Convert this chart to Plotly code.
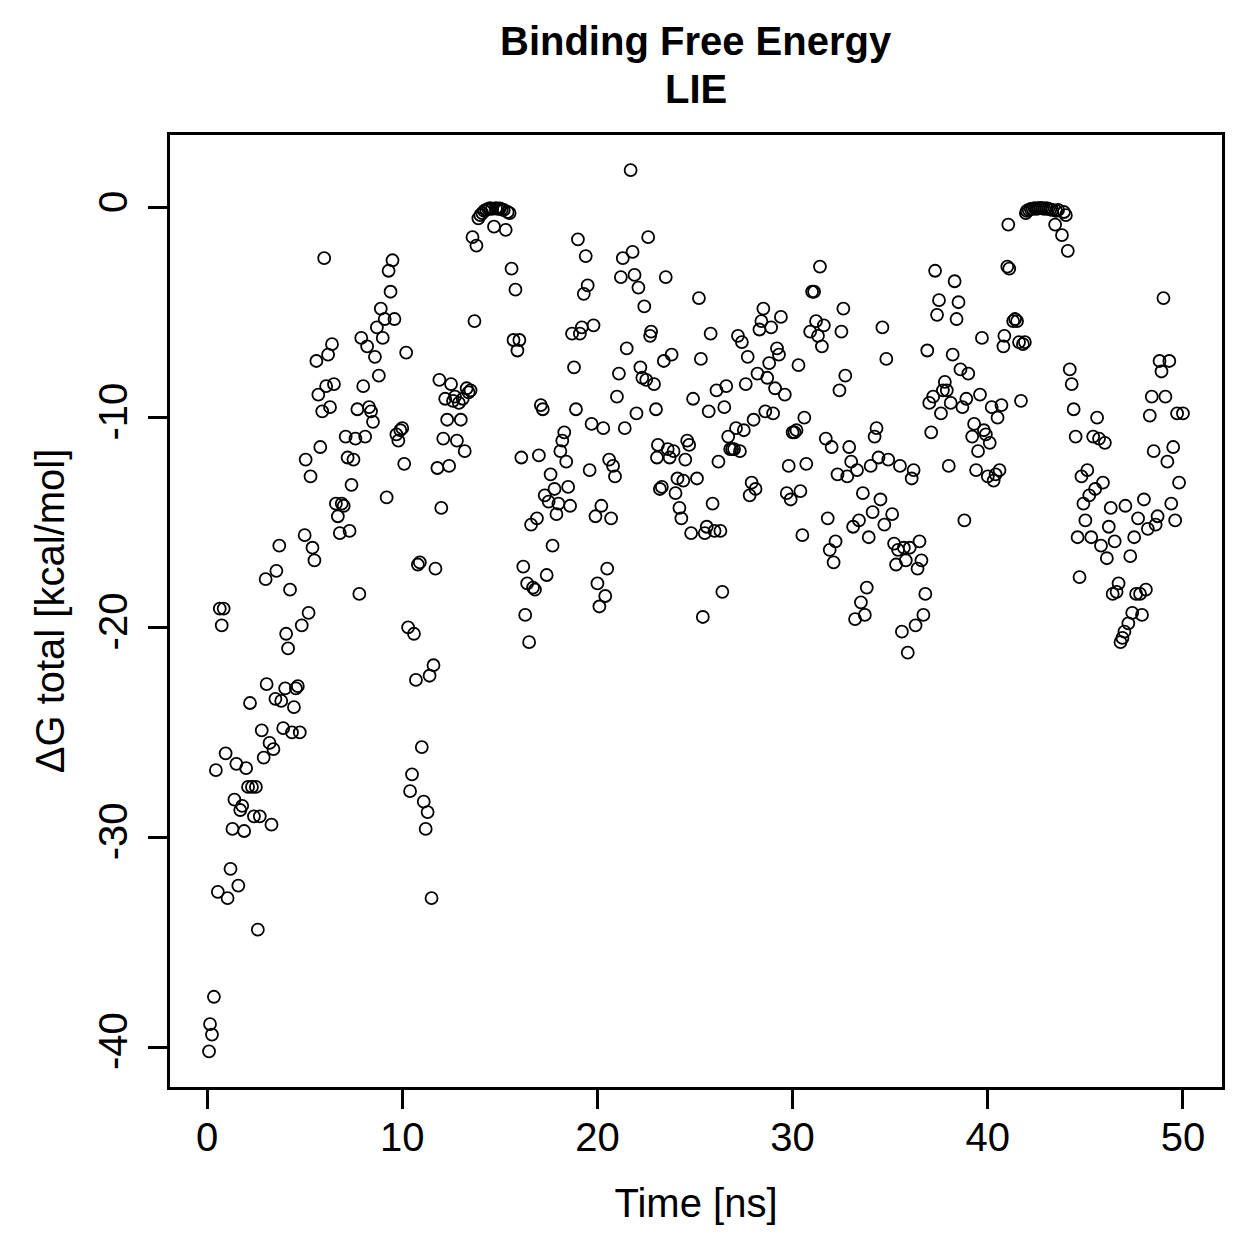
import plotly.graph_objects as go

# Time [ns]
time_ns = [
    0.10, 0.15, 0.25, 0.35, 0.45, 0.55, 0.65, 0.75, 0.85, 0.95,
    1.05, 1.2, 1.3, 1.4, 1.5, 1.6, 1.7, 1.8, 1.9, 2.0,
    2.1, 2.2, 2.3, 2.4, 2.5, 2.6, 2.7, 2.8, 2.9, 3.0,
    3.05, 3.2, 3.3, 3.4, 3.5, 3.55, 3.7, 3.8, 3.9, 4.0,
    4.05, 4.15, 4.25, 4.35, 4.45, 4.55, 4.65, 4.75, 4.85, 5.0,
    5.05, 5.2, 5.3, 5.4, 5.5, 5.6, 5.7, 5.8, 5.9, 6.0,
    6.1, 6.2, 6.3, 6.4, 6.5, 6.6, 6.7, 6.8, 6.9, 7.0,
    7.1, 7.2, 7.3, 7.4, 7.5, 7.6, 7.7, 7.8, 7.9, 8.0,
    8.1, 8.2, 8.3, 8.4, 8.5, 8.6, 8.7, 8.8, 8.9, 9.0,
    9.1, 9.2, 9.3, 9.4, 9.5, 9.6, 9.7, 9.8, 9.9, 10.0,
    10.1, 10.2, 10.3, 10.4, 10.5, 10.6, 10.7, 10.8, 10.9, 11.0,
    11.1, 11.2, 11.3, 11.4, 11.5, 11.6, 11.7, 11.8, 11.9, 12.0,
    12.1, 12.2, 12.3, 12.4, 12.5, 12.6, 12.7, 12.8, 12.9, 13.0,
    13.1, 13.2, 13.3, 13.4, 13.5, 13.6, 13.7, 13.8, 13.9, 14.0,
    14.1, 14.2, 14.3, 14.4, 14.5, 14.6, 14.7, 14.8, 14.9, 15.0,
    15.1, 15.2, 15.3, 15.4, 15.5, 15.6, 15.7, 15.8, 15.9, 16.0,
    16.1, 16.2, 16.3, 16.4, 16.5, 16.6, 16.7, 16.8, 16.9, 17.0,
    17.1, 17.2, 17.3, 17.4, 17.5, 17.6, 17.7, 17.8, 17.9, 18.0,
    18.1, 18.2, 18.3, 18.4, 18.5, 18.6, 18.7, 18.8, 18.9, 19.0,
    19.1, 19.2, 19.3, 19.4, 19.5, 19.6, 19.7, 19.8, 19.9, 20.0,
    20.1, 20.2, 20.3, 20.4, 20.5, 20.6, 20.7, 20.8, 20.9, 21.0,
    21.1, 21.2, 21.3, 21.4, 21.5, 21.7, 21.8, 21.9, 22.0, 22.1,
    22.2, 22.3, 22.4, 22.5, 22.6, 22.7, 22.75, 22.9, 23.0, 23.05,
    23.1, 23.2, 23.3, 23.4, 23.5, 23.6, 23.7, 23.8, 23.9, 24.0,
    24.1, 24.2, 24.3, 24.4, 24.5, 24.6, 24.7, 24.8, 24.9, 25.1,
    25.2, 25.3, 25.4, 25.5, 25.6, 25.7, 25.8, 25.9, 26.0, 26.1,
    26.2, 26.3, 26.4, 26.5, 26.6, 26.7, 26.8, 26.9, 27.0, 27.1,
    27.2, 27.3, 27.4, 27.5, 27.6, 27.7, 27.8, 27.9, 28.0, 28.1,
    28.2, 28.3, 28.4, 28.5, 28.6, 28.7, 28.8, 28.9, 29.0, 29.1,
    29.2, 29.3, 29.4, 29.6, 29.7, 29.8, 29.9, 30.0, 30.1, 30.2,
    30.3, 30.4, 30.5, 30.6, 30.7, 30.9, 31.0, 31.1, 31.2, 31.3,
    31.4, 31.5, 31.6, 31.7, 31.8, 31.9, 32.0, 32.1, 32.2, 32.3,
    32.4, 32.5, 32.6, 32.7, 32.8, 32.9, 33.0, 33.1, 33.2, 33.3,
    33.4, 33.5, 33.6, 33.7, 33.8, 33.9, 34.0, 34.1, 34.2, 34.3,
    34.4, 34.5, 34.6, 34.7, 34.8, 34.9, 35.1, 35.2, 35.3, 35.4,
    35.5, 35.6, 35.7, 35.8, 35.9, 36.0, 36.1, 36.2, 36.3, 36.4,
    36.5, 36.6, 36.7, 36.8, 36.9, 37.0, 37.1, 37.2, 37.3, 37.4,
    37.5, 37.6, 37.7, 37.8, 37.9, 38.0, 38.1, 38.2, 38.3, 38.4,
    38.5, 38.6, 38.7, 38.8, 38.9, 39.0, 39.2, 39.3, 39.4, 39.5,
    39.6, 39.7, 39.8, 39.9, 40.0, 40.1, 40.2, 40.3, 40.4, 40.5,
    40.6, 40.7, 40.8, 40.85, 41.0, 41.05, 41.1, 41.3, 41.4, 41.5,
    41.6, 41.7, 41.8, 41.9, 41.95, 42.0, 42.1, 42.2, 42.3, 42.4,
    42.5, 42.6, 42.7, 42.8, 42.9, 43.0, 43.1, 43.2, 43.3, 43.45,
    43.5, 43.6, 43.8, 43.9, 44.0, 44.1, 44.2, 44.3, 44.4, 44.5,
    44.6, 44.7, 44.8, 44.9, 45.0, 45.1, 45.2, 45.3, 45.4, 45.5,
    45.6, 45.7, 45.8, 45.9, 46.0, 46.1, 46.2, 46.3, 46.4, 46.5,
    46.6, 46.7, 46.8, 46.9, 47.0, 47.05, 47.2, 47.3, 47.4, 47.5,
    47.6, 47.7, 47.8, 47.9, 48.0, 48.1, 48.2, 48.3, 48.4, 48.5,
    48.6, 48.7, 48.8, 48.9, 49.0, 49.1, 49.2, 49.3, 49.4, 49.5,
    49.6, 49.7, 49.8, 50.0,
]

# Delta G total [kcal/mol]
dg_total = [
    -40.2, -38.9, -39.4, -37.6, -26.8, -32.6, -19.1, -19.9, -19.1, -26.0,
    -32.9, -31.5, -29.6, -28.2, -26.5, -32.3, -28.7, -28.5, -29.7, -26.7,
    -27.6, -23.6, -27.6, -29.0, -27.6, -34.4, -29.0, -24.9, -26.2, -17.7,
    -22.7, -25.5, -29.4, -25.8, -23.4, -17.3, -16.1, -23.5, -24.8, -22.9,
    -20.3, -21.0, -18.2, -25.0, -23.8, -22.9, -22.8, -25.0, -19.9, -15.6,
    -12.0, -19.3, -12.8, -16.2, -16.8, -7.3, -8.9, -11.4, -9.7, -2.4,
    -8.5, -7.0, -9.5, -6.5, -8.4, -14.1, -14.7, -15.5, -14.1, -14.2,
    -10.9, -11.9, -15.4, -13.2, -12.0, -11.0, -9.6, -18.4, -6.2, -8.5,
    -10.9, -6.6, -9.5, -9.7, -10.2, -7.1, -5.7, -8.0, -4.8, -6.2,
    -5.3, -13.8, -3.0, -4.0, -2.5, -5.3, -10.8, -11.1, -10.6, -10.5,
    -12.2, -6.9, -20.0, -27.8, -27.0, -20.3, -22.5, -17.0, -16.9, -25.7,
    -28.3, -29.6, -28.8, -22.3, -32.9, -21.8, -17.2, -12.4, -8.2, -14.3,
    -11.0, -9.1, -10.1, -12.3, -8.4, -9.2, -9.0, -11.1, -9.3, -10.1,
    -9.1, -11.6, -8.6, -8.8, -8.7, -1.4, -5.4, -1.8, -0.5, -0.35,
    -0.25, -0.15, -0.1, -0.05, -0.02, -0.05, -0.9, -0.02, -0.05, -0.03,
    -0.08, -0.1, -1.05, -0.2, -0.25, -2.9, -6.3, -3.9, -6.8, -6.3,
    -11.9, -17.1, -19.4, -17.9, -20.7, -15.1, -18.1, -18.2, -14.8, -11.8,
    -9.4, -9.6, -13.7, -17.5, -14.0, -12.7, -16.1, -13.4, -14.6, -14.1,
    -11.6, -11.1, -10.7, -12.1, -13.3, -14.2, -6.0, -7.6, -9.6, -1.5,
    -6.0, -5.7, -4.1, -2.3, -3.7, -12.5, -10.3, -5.6, -14.7, -17.9,
    -19.0, -14.2, -10.5, -18.5, -17.2, -12.0, -14.8, -12.3, -12.8, -9.0,
    -7.9, -3.3, -2.4, -10.5, -6.7, 1.8, -2.1, -3.2, -9.8, -3.8,
    -7.6, -8.1, -4.7, -8.2, -1.4, -6.1, -5.9, -8.4, -9.6, -11.9,
    -11.3, -13.4, -13.3, -7.3, -3.3, -11.5, -11.9, -7.0, -11.6, -13.6,
    -12.9, -14.3, -14.8, -13.0, -12.0, -11.1, -11.3, -15.5, -9.1, -12.9,
    -4.3, -7.2, -19.5, -15.5, -15.2, -9.7, -6.0, -14.1, -15.4, -8.7,
    -12.1, -15.4, -18.3, -9.5, -8.5, -10.9, -11.5, -11.5, -11.5, -10.5,
    -6.1, -11.6, -6.4, -10.6, -8.4, -7.1, -13.7, -13.1, -10.1, -13.4,
    -7.9, -5.8, -5.4, -4.8, -9.7, -8.1, -7.4, -5.7, -9.8, -8.6,
    -6.7, -7.0, -5.2, -8.9, -13.6, -12.3, -13.9, -10.7, -10.7, -10.6,
    -7.5, -13.5, -15.6, -10.0, -12.2, -5.9, -4.0, -4.0, -5.4, -6.1,
    -2.8, -6.6, -5.6, -11.0, -14.8, -16.3, -11.4, -16.9, -15.9, -12.7,
    -8.7, -5.9, -4.8, -8.0, -12.8, -11.4, -12.1, -15.2, -19.6, -12.5,
    -14.9, -18.8, -13.6, -19.4, -18.1, -15.7, -12.3, -14.5, -10.9, -10.5,
    -11.9, -13.9, -5.7, -15.1, -7.2, -12.0, -14.6, -16.0, -17.0, -16.3,
    -12.3, -20.2, -16.2, -16.8, -21.2, -16.2, -12.9, -12.5, -19.9, -17.2,
    -15.9, -16.8, -19.4, -18.4, -6.8, -9.3, -10.7, -9.0, -3.0, -5.1,
    -4.4, -9.8, -8.7, -8.3, -8.7, -12.3, -9.3, -7.0, -3.5, -5.3,
    -4.5, -7.7, -9.5, -14.9, -9.1, -7.9, -10.9, -10.3, -12.5, -11.6,
    -8.9, -6.2, -10.6, -10.8, -12.8, -11.2, -9.5, -13.0, -12.7, -10.0,
    -12.5, -9.4, -6.6, -6.1, -2.8, -0.8, -2.9, -5.4, -5.3, -5.4,
    -6.4, -9.2, -6.5, -6.4, -0.25, -0.15, -0.1, -0.05, -0.05, -0.02,
    -0.05, -0.02, 0.0, -0.02, -0.05, -0.02, -0.05, -0.08, -0.1, -0.8,
    -0.15, -0.1, -1.3, -0.2, -0.35, -2.05, -7.7, -8.4, -9.6, -10.9,
    -15.7, -17.6, -12.8, -14.1, -14.9, -12.5, -13.7, -15.7, -10.9, -13.4,
    -10.0, -11.0, -16.1, -13.1, -11.2, -16.7, -15.2, -14.3, -18.4, -15.9,
    -18.3, -17.9, -20.7, -20.5, -20.2, -14.2, -19.8, -16.6, -19.3, -15.7,
    -18.4, -14.8, -18.4, -19.4, -13.9, -18.2, -15.3, -9.9, -9.0, -11.6,
    -15.1, -14.7, -7.3, -7.8, -4.3, -9.0, -12.1, -7.3, -14.1, -11.4,
    -14.9, -9.8, -13.1, -9.8,
]

x_ticks = [0, 10, 20, 30, 40, 50]
x_ticklabels = ["0", "10", "20", "30", "40", "50"]
y_ticks = [0, -10, -20, -30, -40]
y_ticklabels = ["0", "-10", "-20", "-30", "-40"]

title_lines = ["Binding Free Energy", "LIE"]
x_label = "Time [ns]"
y_label = "\u0394G total [kcal/mol]"

FONT = "Liberation Sans, Arial, Helvetica, sans-serif"

fig = go.Figure()
fig.add_trace(go.Scatter(
    x=time_ns, y=dg_total, mode="markers",
    marker=dict(symbol="circle-open", size=12, color="black",
                line=dict(color="black", width=1.8)),
    showlegend=False, hoverinfo="skip",
))

axis_common = dict(
    showline=True, linewidth=2.6, linecolor="black", mirror=True,
    ticks="outside", ticklen=19, tickwidth=2.6, tickcolor="black",
    showgrid=False, zeroline=False,
    tickfont=dict(family=FONT, size=40, color="black"),
)

fig.update_xaxes(
    range=[-1.9, 52.0], tickmode="array", tickvals=x_ticks, ticktext=x_ticklabels,
    ticklabelstandoff=-6,
    title=dict(text=x_label, font=dict(family=FONT, size=40, color="black"), standoff=32),
    **axis_common,
)
fig.update_yaxes(
    range=[-41.9, 3.47], tickmode="array", tickvals=y_ticks, ticktext=y_ticklabels,
    tickangle=-90, ticklabelstandoff=5,
    title=dict(text=y_label, font=dict(family=FONT, size=40, color="black"), standoff=15),
    **axis_common,
)

fig.add_annotation(text="<b>%s</b>" % title_lines[0], xref="paper", yref="paper",
                   x=0.5, y=1.0735, xanchor="center", yanchor="bottom", showarrow=False,
                   font=dict(family=FONT, size=40, color="black"))
fig.add_annotation(text="<b>%s</b>" % title_lines[1], xref="paper", yref="paper",
                   x=0.5, y=1.0231, xanchor="center", yanchor="bottom", showarrow=False,
                   font=dict(family=FONT, size=40, color="black"))

fig.update_layout(
    width=1259, height=1259,
    margin=dict(l=170, r=37, t=135, b=172),
    plot_bgcolor="white", paper_bgcolor="white",
    font=dict(family=FONT, color="black"),
)

fig.write_html("out.html")
